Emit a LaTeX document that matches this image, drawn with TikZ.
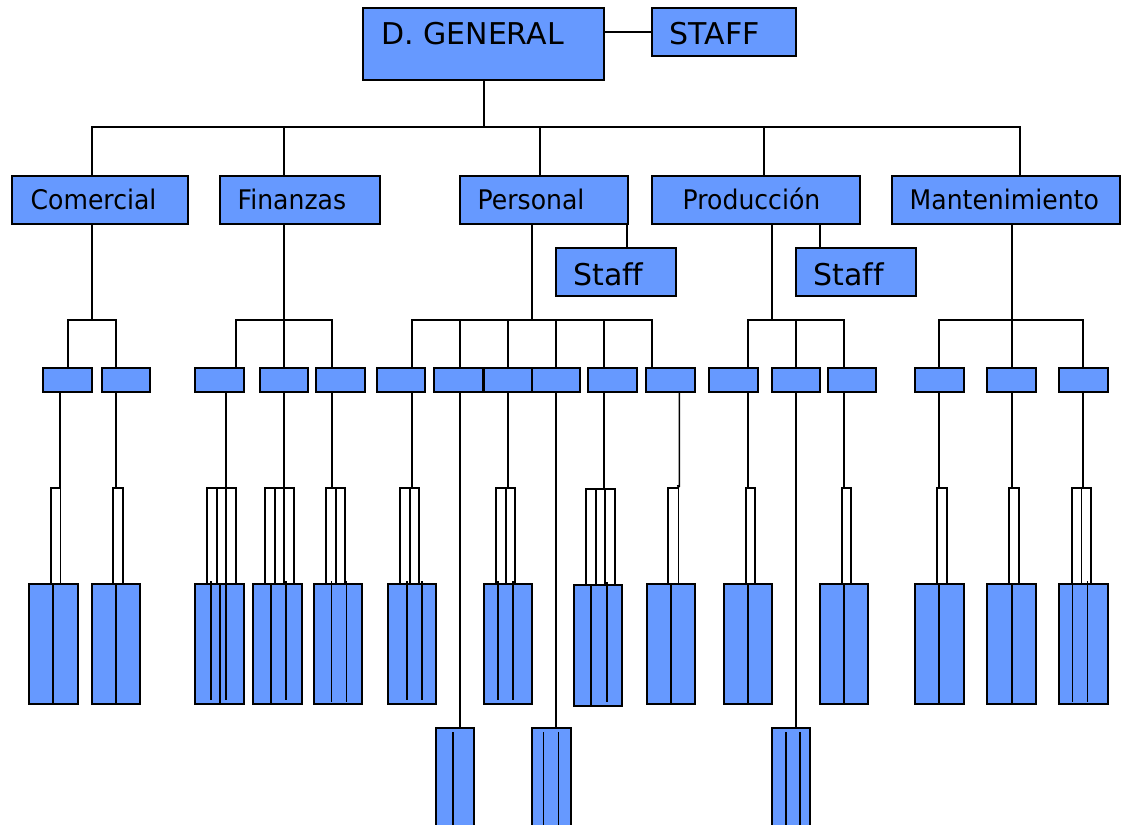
\documentclass[tikz,border=0pt]{standalone}
\usepackage{fontspec}
\newfontfamily\labfont{DejaVu Sans}
\newfontfamily\midfont[FakeStretch=0.93]{DejaVu Sans}
\definecolor{boxblue}{RGB}{102,153,255}
\tikzset{
  box/.style={rectangle, draw=black, line width=2pt, fill=boxblue, inner sep=0pt, outer sep=0pt},
  wbox/.style={rectangle, draw=black, line width=1.8pt, fill=white, inner sep=0pt, outer sep=0pt},
  conn/.style={draw=black, line width=2pt},
  thinl/.style={draw=black, line width=1.6pt},
  hair/.style={draw=black, line width=1.2pt},
  bigtxt/.style={inner sep=0pt, font=\labfont\fontsize{30}{36}\selectfont, anchor=base west},
  midtxt/.style={inner sep=0pt, font=\midfont\fontsize{27}{32}\selectfont, anchor=base west},
}
\newcommand\mkbox[6][box]{\node[#1, minimum width={#5-#3}, minimum height={#6-#4}] (#2) at ({(#3+#5)/2},{(#4+#6)/2}) {};}
\newcommand\vconn[4][conn]{\draw[#1] (#2 -| #4,0) -- (#3 -| #4,0);}
\newcommand\inl[4][thinl]{\draw[#1] (#2,#3) -- (#2,#4);}
\begin{document}
\begin{tikzpicture}[x=1pt,y=-1pt]
\useasboundingbox (0,0) rectangle (1134,824);
\clip (0,0) rectangle (1134,824);
% ---------- level 1
\mkbox{dg}{363}{8}{604}{80}
\mkbox{staff}{652}{8}{796}{56}
\node[bigtxt] (tdg) at (381,45) {D. GENERAL};
\node[bigtxt] (tstaff) at (669.5,45) {STAFF};
% ---------- level 2
\mkbox{com}{12}{176}{188}{224}
\mkbox{fin}{220}{176}{380}{224}
\mkbox{per}{460}{176}{628}{224}
\mkbox{pro}{652}{176}{860}{224}
\mkbox{man}{892}{176}{1120}{224}
\mkbox{stp}{556}{248}{676}{296}
\mkbox{str}{796}{248}{916}{296}
\node[midtxt] (tcom) at (30.5,209) {Comercial};
\node[midtxt] (tfin) at (237.5,209) {Finanzas};
\node[midtxt] (tper) at (477.5,209) {Personal};
\node[midtxt] (tpro) at (682.5,209) {Producción};
\node[midtxt] (tman) at (909.5,209) {Mantenimiento};
\node[bigtxt] (tstp) at (573,285) {Staf\kern0pt f};
\node[bigtxt] (tstr) at (813.5,285) {Staf\kern0pt f};
% ---------- level 3
\mkbox{c1}{43}{368}{92}{392}
\mkbox{c2}{102}{368}{150}{392}
\mkbox{f1}{195}{368}{244}{392}
\mkbox{f2}{260}{368}{308}{392}
\mkbox{f3}{316}{368}{365}{392}
\mkbox{p1}{377}{368}{425}{392}
\mkbox{p2}{434}{368}{483}{392}
\mkbox{p3}{484}{368}{532}{392}
\mkbox{p4}{532}{368}{580}{392}
\mkbox{p5}{588}{368}{637}{392}
\mkbox{p6}{646}{368}{695}{392}
\mkbox{r1}{709}{368}{758}{392}
\mkbox{r2}{772}{368}{820}{392}
\mkbox{r3}{828}{368}{876}{392}
\mkbox{m1}{915}{368}{964}{392}
\mkbox{m2}{987}{368}{1036}{392}
\mkbox{m3}{1059}{368}{1108}{392}
% ---------- level 4 (white)
\mkbox[wbox]{wc1}{51}{488}{60.5}{584}
\mkbox[wbox]{wc2}{113}{488}{123}{584}
\mkbox[wbox]{wf1}{207}{488}{236}{584}
\mkbox[wbox]{wf2}{265}{488}{294}{584}
\mkbox[wbox]{wf3}{326}{488}{345}{584}
\mkbox[wbox]{wp1}{400}{488}{419.3}{584}
\mkbox[wbox]{wp3}{496}{488}{515.3}{584}
\mkbox[wbox]{wp5}{586}{489}{615}{585}
\mkbox[wbox]{wp6}{668}{488}{678.5}{584}
\mkbox[wbox]{wr1}{746}{488}{755}{584}
\mkbox[wbox]{wr3}{842}{488}{851}{584}
\mkbox[wbox]{wm1}{937}{488}{947}{584}
\mkbox[wbox]{wm2}{1009}{488}{1019}{584}
\mkbox[wbox]{wm3}{1072}{488}{1091}{584}
% ---------- level 5 (blue)
\mkbox{bc1}{29}{584}{78}{704}
\mkbox{bc2}{92}{584}{140}{704}
\mkbox{bf1}{195}{584}{244}{704}
\mkbox{bf2}{253}{584}{302}{704}
\mkbox{bf3}{314}{584}{362}{704}
\mkbox{bp1}{388}{584}{436}{704}
\mkbox{bp3}{484}{584}{532}{704}
\mkbox{bp5}{574}{585}{622}{706}
\mkbox{bp6}{647}{584}{695}{704}
\mkbox{br1}{724}{584}{772}{704}
\mkbox{br3}{820}{584}{868}{704}
\mkbox{bm1}{915}{584}{964}{704}
\mkbox{bm2}{987}{584}{1036}{704}
\mkbox{bm3}{1059}{584}{1108}{704}
\mkbox{bp2}{436}{728}{474}{850}
\mkbox{bp4}{532}{728}{571}{850}
\mkbox{br2}{772}{728}{810}{850}
% ---------- connectors level 1
\coordinate (bus1) at (484,127);
\coordinate (bus3) at (0,320);
\draw[conn] (dg.east |- 0,32) -- (staff.west |- 0,32);
\draw[conn] (dg.south) -- (dg.south |- bus1);
\draw[conn] (com.north -| 92,0) -- (bus1 -| 92,0) -- (bus1 -| 1020,0) -- (man.north -| 1020,0);
\vconn{bus1}{fin.north}{284}
\vconn{bus1}{per.north}{540}
\vconn{bus1}{pro.north}{764}
\vconn[conn]{per.south}{stp.north}{627}
\vconn[conn]{pro.south}{str.north}{820}
% ---------- connectors level 2 -> 3
\vconn{com.south}{bus3}{92}
\draw[conn] (c1.north -| 68,0) -- (bus3 -| 68,0) -- (bus3 -| 116,0) -- (c2.north -| 116,0);
\vconn{fin.south}{f2.north}{284}
\draw[conn] (f1.north -| 236,0) -- (bus3 -| 236,0) -- (bus3 -| 332,0) -- (f3.north -| 332,0);
\vconn{per.south}{bus3}{532}
\draw[conn] (p1.north -| 412,0) -- (bus3 -| 412,0) -- (bus3 -| 652,0) -- (p6.north -| 652,0);
\vconn{bus3}{p2.north}{460}
\vconn{bus3}{p3.north}{508}
\vconn{bus3}{p4.north}{556}
\vconn{bus3}{p5.north}{604}
\vconn{pro.south}{bus3}{772}
\draw[conn] (r1.north -| 748,0) -- (bus3 -| 748,0) -- (bus3 -| 844,0) -- (r3.north -| 844,0);
\vconn{bus3}{r2.north}{796}
\vconn{man.south}{m2.north}{1011.7}
\draw[conn] (m1.north -| 939.3,0) -- (bus3 -| 939.3,0) -- (bus3 -| 1083.3,0) -- (m3.north -| 1083.3,0);
% ---------- connectors level 3 -> 4
\vconn{c1.south}{wc1.north}{59.5}
\vconn{c2.south}{wc2.north}{116}
\vconn{f1.south}{wf1.north}{226}
\vconn{f2.south}{wf2.north}{284}
\vconn{f3.south}{wf3.north}{332}
\vconn{p1.south}{wp1.north}{412}
\vconn{p2.south}{bp2.north}{460}
\vconn{p3.south}{wp3.north}{508}
\vconn{p4.south}{bp4.north}{556}
\vconn{p5.south}{wp5.north}{604}
\draw[thinl] (p6.south -| 679.3,0) -- (679.3,486) -- (678,486) -- (wp6.north east);
\vconn{r1.south}{wr1.north}{748}
\vconn{r2.south}{br2.north}{796}
\vconn{r3.south}{wr3.north}{844}
\vconn{m1.south}{wm1.north}{939.3}
\vconn{m2.south}{wm2.north}{1011.7}
\vconn{m3.south}{wm3.north}{1083.3}
% ---------- dividers in white boxes
\inl{217}{488}{584}
\inl{226}{488}{584}
\inl{275}{488}{584}
\inl{284}{488}{584}
\inl{336}{488}{584}
\inl{410}{488}{584}
\inl{506}{488}{584}
\inl{596}{489}{585}
\inl{605}{489}{585}
\inl{1081.3}{488}{584}
% ---------- inner lines in blue boxes
\inl[conn]{53}{584}{704}
\inl[conn]{116}{584}{704}
\inl{211}{581}{700}
\inl[conn]{220}{584}{704}
\inl{226}{581}{700}
\inl[conn]{271}{584}{704}
\inl{286}{581}{700}
\inl[hair]{331.3}{581}{702}
\inl[hair]{346.7}{581}{702}
\inl{407}{581}{700}
\inl{422}{581}{700}
\inl{498}{581}{700}
\inl{513}{581}{700}
\inl[conn]{591.3}{585}{706}
\inl{606.7}{582}{702}
\inl[conn]{670.7}{584}{704}
\inl[conn]{748}{584}{704}
\inl[conn]{844}{584}{704}
\inl[conn]{939.3}{584}{704}
\inl[conn]{1011.7}{584}{704}
\inl[hair]{1072.3}{584}{702}
\inl[hair]{1087.3}{581}{702}
\inl[hair]{453}{732}{850}
\inl[hair]{543.7}{732}{850}
\inl[hair]{558.3}{732}{850}
\inl[hair]{786}{732}{850}
\inl[hair]{800}{732}{850}
\end{tikzpicture}
\end{document}
